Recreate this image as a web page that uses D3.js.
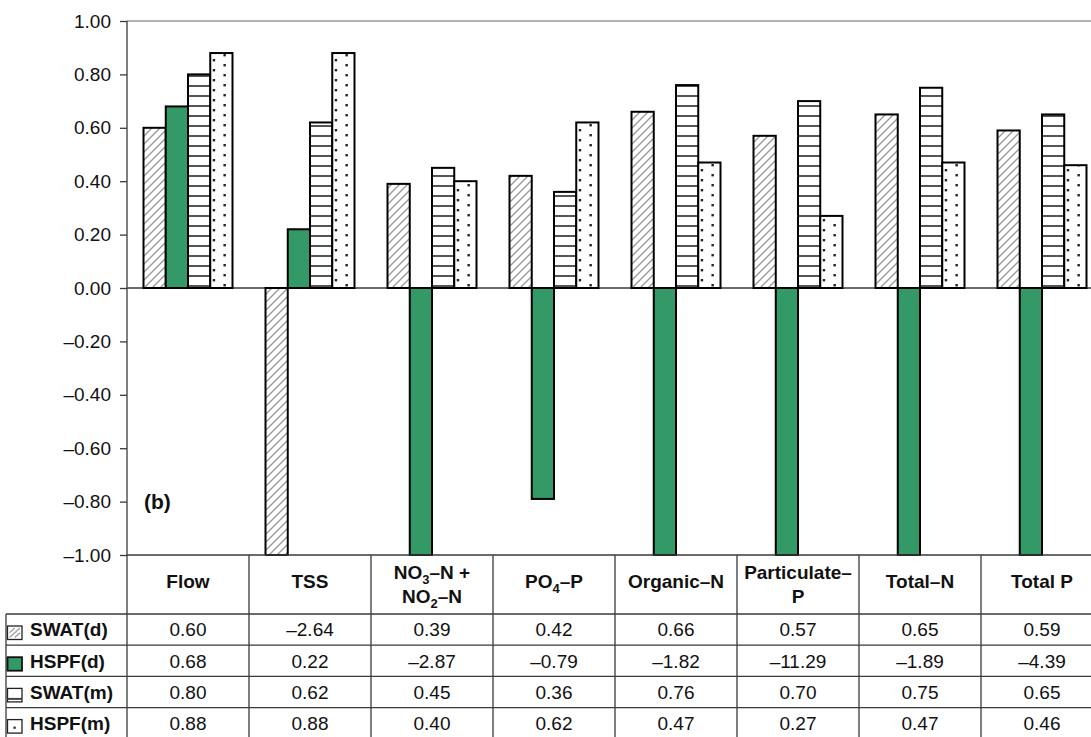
<!DOCTYPE html>
<html>
<head>
<meta charset="utf-8">
<script src="https://cdn.jsdelivr.net/npm/d3@7"></script>
<style>
  body { margin: 0; background: #fff; }
  svg { display: block; font-family: "Liberation Sans", Arial, Helvetica, sans-serif; }
</style>
</head>
<body>
<svg id="chart" width="1091" height="737"></svg>
<script>
// Nash–Sutcliffe efficiency by constituent, daily (d) and monthly (m) models
const categories = ["Flow", "TSS", "NO3+NO2", "PO4-P", "Organic-N", "Particulate-P", "Total-N", "Total P"];
const seriesNames = ["SWAT(d)", "HSPF(d)", "SWAT(m)", "HSPF(m)"];
const swatDaily   = [0.60, -2.64, 0.39, 0.42, 0.66, 0.57, 0.65, 0.59];
const hspfDaily   = [0.68, 0.22, -2.87, -0.79, -1.82, -11.29, -1.89, -4.39];
const swatMonthly = [0.80, 0.62, 0.45, 0.36, 0.76, 0.70, 0.75, 0.65];
const hspfMonthly = [0.88, 0.88, 0.40, 0.62, 0.47, 0.27, 0.47, 0.46];
const yTicks = [1.0, 0.8, 0.6, 0.4, 0.2, 0.0, -0.2, -0.4, -0.6, -0.8, -1.0];

// Column headings; segments flagged sub are drawn as subscripts
const headerLines = [
  [[{ t: "Flow" }]],
  [[{ t: "TSS" }]],
  [[{ t: "NO" }, { t: "3", sub: true }, { t: "–N +" }], [{ t: "NO" }, { t: "2", sub: true }, { t: "–N" }]],
  [[{ t: "PO" }, { t: "4", sub: true }, { t: "–P" }]],
  [[{ t: "Organic–N" }]],
  [[{ t: "Particulate–" }], [{ t: "P" }]],
  [[{ t: "Total–N" }]],
  [[{ t: "Total P" }]]
];

const seriesValues = [swatDaily, hspfDaily, swatMonthly, hspfMonthly];

const svg = d3.select("#chart");
const W = 1091, H = 737;
const plotLeft = 127, plotTop = 21, colW = 122;
const plotRight = plotLeft + colW * categories.length;
const plotBottom = 555;
const headerBottom = 614;
const rowH = 31.2;
const fs = 19;
const green = "#339966";
const lineCol = "#3a3a3a";

svg.append("rect").attr("width", W).attr("height", H).attr("fill", "#fff");

const y = d3.scaleLinear().domain([-1, 1]).range([plotBottom, plotTop]);
const x0 = d3.scaleBand().domain(categories).range([plotLeft, plotRight]);
const x1 = d3.scaleBand().domain(seriesNames).range([16.5, colW - 16.5]);
const bw = x1.bandwidth();

// ---- fill patterns ----
const defs = svg.append("defs");

const hatch = defs.append("pattern").attr("id", "hatch")
  .attr("patternUnits", "userSpaceOnUse").attr("width", 8).attr("height", 8);
hatch.append("rect").attr("width", 8).attr("height", 8).attr("fill", "#fff");
hatch.append("path").attr("d", "M0,8 L8,0 M-2,2 L2,-2 M6,10 L10,6")
  .attr("stroke", "#9a9a9a").attr("stroke-width", 1.4);

const hlines = defs.append("pattern").attr("id", "hlines")
  .attr("patternUnits", "userSpaceOnUse").attr("y", y(0)).attr("width", 10).attr("height", 10);
hlines.append("rect").attr("width", 10).attr("height", 10).attr("fill", "#fff");
hlines.append("rect").attr("y", 7).attr("width", 10).attr("height", 2).attr("fill", "#555");

// dot pattern repeats once per category column so the dots line up inside each bar
const dotX = x1("HSPF(m)");
const dots = defs.append("pattern").attr("id", "dots")
  .attr("patternUnits", "userSpaceOnUse").attr("x", plotLeft).attr("y", y(0))
  .attr("width", colW).attr("height", 10);
dots.append("rect").attr("width", colW).attr("height", 10).attr("fill", "#fff");
dots.append("rect").attr("x", dotX + 2.5).attr("y", 1).attr("width", 2.4).attr("height", 2.4).attr("fill", "#222");
dots.append("rect").attr("x", dotX + 13.2).attr("y", 6).attr("width", 2.4).attr("height", 2.4).attr("fill", "#222");

const fills = ["url(#hatch)", green, "url(#hlines)", "url(#dots)"];

// ---- plot frame ----
svg.append("line").attr("x1", plotLeft).attr("x2", plotRight).attr("y1", plotTop).attr("y2", plotTop)
  .attr("stroke", "#9a9a9a").attr("stroke-width", 1.5);

// y axis
const yAxis = d3.axisLeft(y).tickValues(yTicks).tickSize(7).tickPadding(9)
  .tickFormat(d => d3.format(".2f")(d).replace("-", "–").replace("−", "–"));
const ya = svg.append("g").attr("transform", `translate(${plotLeft},0)`).call(yAxis);
ya.select(".domain").remove();
ya.selectAll(".tick line").attr("stroke", lineCol).attr("stroke-width", 1.3);
ya.selectAll(".tick text").attr("font-size", fs).attr("fill", "#111")
  .attr("font-family", "Liberation Sans, Arial, sans-serif");

// zero line
svg.append("line").attr("x1", plotLeft).attr("x2", plotRight).attr("y1", y(0)).attr("y2", y(0))
  .attr("stroke", lineCol).attr("stroke-width", 1.3);

// ---- bars ----
const barData = [];
categories.forEach((c, ci) => {
  seriesNames.forEach((s, si) => {
    barData.push({ cat: c, ser: s, si, value: seriesValues[si][ci] });
  });
});
const clampV = v => Math.max(-1, Math.min(1, v));
svg.append("g").selectAll("rect").data(barData).join("rect")
  .attr("x", d => x0(d.cat) + x1(d.ser))
  .attr("width", bw)
  .attr("y", d => y(Math.max(0, clampV(d.value))))
  .attr("height", d => Math.abs(y(clampV(d.value)) - y(0)))
  .attr("fill", d => fills[d.si])
  .attr("stroke", "#000").attr("stroke-width", 2);

// panel label
svg.append("text").attr("x", 144).attr("y", 509).attr("font-size", 21)
  .attr("font-weight", "bold").attr("fill", "#111").text("(b)");

// ---- data table ----
const tbl = svg.append("g");
const tableBottom = headerBottom + rowH * seriesNames.length;

// horizontal rules
tbl.append("line").attr("x1", plotLeft).attr("x2", plotRight).attr("y1", plotBottom).attr("y2", plotBottom)
  .attr("stroke", lineCol).attr("stroke-width", 1.3);
d3.range(seriesNames.length).forEach(i => {
  const yy = headerBottom + i * rowH;
  tbl.append("line").attr("x1", 6).attr("x2", plotRight).attr("y1", yy).attr("y2", yy)
    .attr("stroke", lineCol).attr("stroke-width", 1.3);
});
// vertical rules
tbl.append("line").attr("x1", plotLeft).attr("x2", plotLeft).attr("y1", plotTop).attr("y2", tableBottom)
  .attr("stroke", lineCol).attr("stroke-width", 1.3);
tbl.append("line").attr("x1", 6).attr("x2", 6).attr("y1", headerBottom).attr("y2", tableBottom)
  .attr("stroke", lineCol).attr("stroke-width", 1.3);
categories.forEach(c => {
  const xx = x0(c) + colW;
  tbl.append("line").attr("x1", xx).attr("x2", xx).attr("y1", plotBottom).attr("y2", tableBottom)
    .attr("stroke", lineCol).attr("stroke-width", 1.3);
});

// header cells
categories.forEach((c, ci) => {
  const lines = headerLines[ci];
  const cx = x0(c) + colW / 2;
  const mid = lines.length > 1 ? (plotBottom + headerBottom) / 2 : 581.5;
  const lh = 24;
  lines.forEach((segs, li) => {
    const yy = mid + (li - (lines.length - 1) / 2) * lh + fs * 0.36;
    const t = tbl.append("text").attr("x", cx).attr("y", yy).attr("text-anchor", "middle")
      .attr("font-size", fs).attr("font-weight", "bold").attr("fill", "#111");
    let prevSub = false;
    segs.forEach(sg => {
      const sp = t.append("tspan").text(sg.t);
      if (sg.sub) { sp.attr("font-size", 13).attr("dy", 5); prevSub = true; }
      else if (prevSub) { sp.attr("dy", -5); prevSub = false; }
    });
  });
});

// value rows
const fmt = v => d3.format(".2f")(v).replace("-", "–").replace("−", "–");
seriesNames.forEach((s, si) => {
  const rowTop = headerBottom + si * rowH;
  const cy = rowTop + rowH / 2 + fs * 0.36;
  // legend key
  const kx = 7.5, ky = rowTop + 12, ks = 14.5, kh = 13.5;
  if (si === 0) {
    tbl.append("rect").attr("x", kx).attr("y", ky).attr("width", ks).attr("height", kh)
      .attr("fill", "#fff").attr("stroke", "#222").attr("stroke-width", 1.3);
    tbl.append("path").attr("d", `M${kx + 2},${ky + kh - 2} L${kx + ks - 2},${ky + 2} M${kx + 2},${ky + kh / 2} L${kx + ks / 2},${ky + 2} M${kx + ks / 2},${ky + kh - 2} L${kx + ks - 2},${ky + kh / 2}`)
      .attr("stroke", "#999").attr("stroke-width", 1.1);
  } else if (si === 1) {
    tbl.append("rect").attr("x", kx).attr("y", ky).attr("width", ks).attr("height", kh)
      .attr("fill", green).attr("stroke", "#111").attr("stroke-width", 1.8);
  } else if (si === 2) {
    tbl.append("rect").attr("x", kx).attr("y", ky).attr("width", ks).attr("height", kh)
      .attr("fill", "#fff").attr("stroke", "#222").attr("stroke-width", 1.3);
    tbl.append("rect").attr("x", kx).attr("y", ky + kh - 4).attr("width", ks).attr("height", 2)
      .attr("fill", "#444");
  } else {
    tbl.append("rect").attr("x", kx).attr("y", ky).attr("width", ks).attr("height", kh)
      .attr("fill", "#fff").attr("stroke", "#222").attr("stroke-width", 1.3);
    tbl.append("rect").attr("x", kx + 6).attr("y", ky + 7).attr("width", 2.2).attr("height", 2.2)
      .attr("fill", "#222");
  }
  tbl.append("text").attr("x", 30).attr("y", cy).attr("font-size", fs)
    .attr("font-weight", "bold").attr("fill", "#111").text(s);

  categories.forEach((c, ci) => {
    tbl.append("text").attr("x", x0(c) + colW / 2).attr("y", cy).attr("text-anchor", "middle")
      .attr("font-size", fs).attr("fill", "#111").text(fmt(seriesValues[si][ci]));
  });
});
</script>
</body>
</html>
